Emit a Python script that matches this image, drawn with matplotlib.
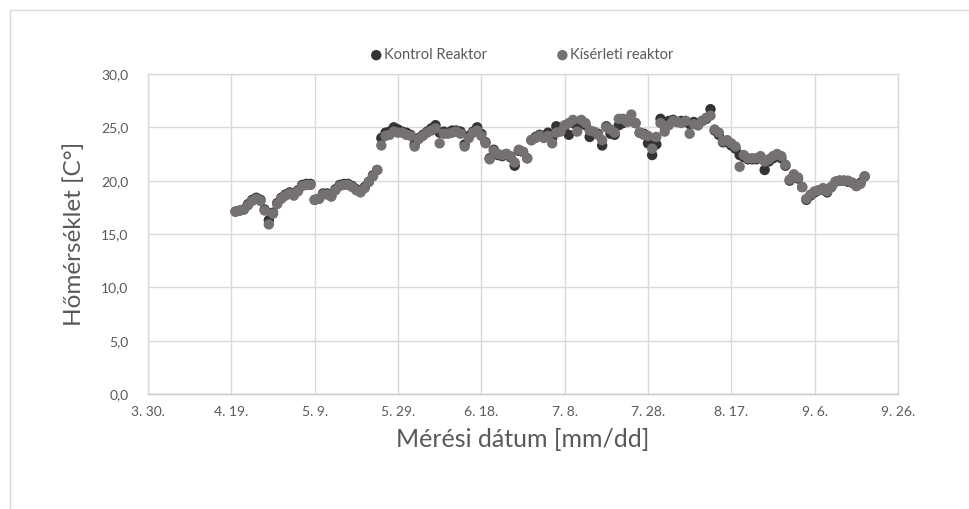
import matplotlib
matplotlib.use("Agg")
import matplotlib.pyplot as plt
import matplotlib.dates as mdates
from matplotlib.ticker import FuncFormatter
from matplotlib.lines import Line2D
import pandas as pd

# Daily reactor temperatures, first measurement on 2019-04-20
first_day = "2019-04-20"

kontrol = [
    17.1, 17.2, 17.3, 17.8, 18.2, 18.4, 18.2, 17.3, 16.3, 17.0,
    17.9, 18.4, 18.7, 18.9, 18.7, 19.1, 19.6, 19.7, 19.7, 18.2,
    18.3, 18.8, 18.8, 18.6, 19.2, 19.6, 19.7, 19.7, 19.5, 19.2,
    19.0, 19.4, 19.9, 20.5, 21.0, 24.0, 24.5, 24.6, 25.0, 24.8,
    24.6, 24.5, 24.3, 23.4, 24.0, 24.3, 24.6, 24.9, 25.2, 24.5,
    24.6, 24.5, 24.7, 24.7, 24.6, 23.4, 24.2, 24.6, 25.0, 24.4,
    23.6, 22.1, 22.9, 22.4, 22.3, 22.5, 22.2, 21.4, 22.8, 22.7,
    22.1, 23.8, 24.1, 24.3, 24.1, 24.5, 24.0, 25.1, 24.8, 25.1,
    24.3, 25.4, 25.1, 25.5, 25.2, 24.1, 24.5, 24.4, 23.3, 25.1,
    24.4, 24.3, 25.2, 25.4, 25.7, 25.6, 25.4, 24.5, 24.4, 23.5,
    22.4, 23.4, 25.8, 25.1, 25.6, 25.7, 25.5, 25.6, 25.6, 25.3,
    25.5, 25.2, 25.6, 25.8, 26.7, 24.7, 24.3, 23.6, 23.6, 23.3,
    23.0, 22.4, 22.2, 22.0, 22.0, 22.0, 22.2, 21.0, 21.8, 22.1,
    22.3, 22.1, 21.4, 20.0, 20.5, 20.2, 19.4, 18.2, 18.6, 18.9,
    19.1, 19.2, 18.9, 19.4, 19.9, 20.0, 20.0, 19.9, 19.8, 19.5,
    19.8, 20.4,
]

kiserleti = [
    17.1, 17.2, 17.3, 17.7, 18.1, 18.3, 18.1, 17.2, 15.9, 16.9,
    17.8, 18.3, 18.6, 18.8, 18.6, 19.0, 19.5, 19.6, 19.6, 18.2,
    18.3, 18.7, 18.7, 18.5, 19.1, 19.5, 19.6, 19.6, 19.4, 19.1,
    18.9, 19.3, 19.9, 20.4, 21.0, 23.3, 24.2, 24.3, 24.6, 24.5,
    24.5, 24.3, 24.2, 23.2, 23.9, 24.2, 24.5, 24.7, 24.9, 23.5,
    24.4, 24.4, 24.5, 24.6, 24.4, 23.2, 24.0, 24.5, 24.7, 24.2,
    23.5, 22.0, 22.8, 22.5, 22.4, 22.5, 22.3, 21.7, 22.9, 22.7,
    22.1, 23.8, 24.0, 24.2, 24.0, 24.2, 23.5, 24.5, 24.6, 25.2,
    25.4, 25.7, 24.6, 25.7, 25.4, 24.7, 24.6, 24.3, 23.8, 25.0,
    24.8, 24.5, 25.8, 25.8, 25.5, 26.2, 25.4, 24.5, 24.3, 24.2,
    23.0, 24.1, 25.4, 24.6, 25.2, 25.6, 25.5, 25.4, 25.6, 24.4,
    25.3, 25.2, 25.6, 25.9, 26.1, 24.8, 24.5, 23.7, 23.8, 23.5,
    23.2, 21.3, 22.4, 22.1, 22.1, 22.1, 22.3, 21.8, 22.0, 22.3,
    22.5, 22.3, 21.5, 20.1, 20.6, 20.3, 19.4, 18.3, 18.7, 19.0,
    19.1, 19.3, 19.0, 19.4, 19.9, 20.0, 20.0, 20.0, 19.8, 19.5,
    19.7, 20.4,
]

series_names = ["Kontrol Reaktor", "Kísérleti reaktor"]
series_colors = ["#333333", "#767171"]
y_ticks = [0, 5, 10, 15, 20, 25, 30]
x_range = ("2019-03-30", "2019-09-26")

dates = pd.date_range(first_day, periods=len(kontrol), freq="D")

FONT = ["Lato", "DejaVu Sans"]
plt.rcParams["font.family"] = FONT
text_color = "#595959"
grid_color = "#D9D9D9"

fig = plt.figure(figsize=(9.70, 5.09), dpi=100)
ax = fig.add_axes([148 / 970, 1 - 394 / 509, 750 / 970, 320 / 509])

for vals, name, col in zip([kontrol, kiserleti], series_names, series_colors):
    ax.scatter(dates, vals, s=56, color=col, edgecolors="none", label=name,
               zorder=3)

x0, x1 = pd.Timestamp(x_range[0]), pd.Timestamp(x_range[1])
ax.set_xlim(x0, x1)
ax.set_ylim(y_ticks[0], y_ticks[-1])
ax.set_xticks(pd.date_range(x0, x1, freq="20D"))
ax.xaxis.set_major_formatter(
    FuncFormatter(lambda v, p: "{}. {}.".format(mdates.num2date(v).month,
                                                mdates.num2date(v).day)))
ax.set_yticks(y_ticks)
ax.yaxis.set_major_formatter(
    FuncFormatter(lambda v, p: f"{v:.1f}".replace(".", ",")))

ax.grid(True, color=grid_color, linewidth=1.0, zorder=0)
ax.set_axisbelow(True)
for side, sp in ax.spines.items():
    sp.set_color(grid_color)
    sp.set_linewidth(1.0)
ax.spines["bottom"].set_color("#C8C8C8")

ax.tick_params(axis="both", length=0, labelsize=10, labelcolor=text_color)
ax.tick_params(axis="x", pad=9)
ax.tick_params(axis="y", pad=14)

ax.set_xlabel("Mérési dátum [mm/dd]", fontsize=18, color=text_color,
              labelpad=7)
ax.set_ylabel("Hőmérséklet [C°]", fontsize=17.5, color=text_color,
              labelpad=12)

leg = ax.legend(loc="center", bbox_to_anchor=(521 / 970, (509 - 55) / 509),
                bbox_transform=fig.transFigure, ncol=2, frameon=False,
                fontsize=10.5, handletextpad=0.0, handlelength=1.0,
                columnspacing=4.7, borderpad=0, markerscale=1.0)
for t in leg.get_texts():
    t.set_color(text_color)

# chart area border (top and left edges)
fig.add_artist(Line2D([10 / 970, 1], [1 - 10 / 509, 1 - 10 / 509],
                      transform=fig.transFigure, color=grid_color, lw=1.0))
fig.add_artist(Line2D([10 / 970, 10 / 970], [0, 1 - 10 / 509],
                      transform=fig.transFigure, color=grid_color, lw=1.0))

fig.savefig("out.png", dpi=100, facecolor="white")
